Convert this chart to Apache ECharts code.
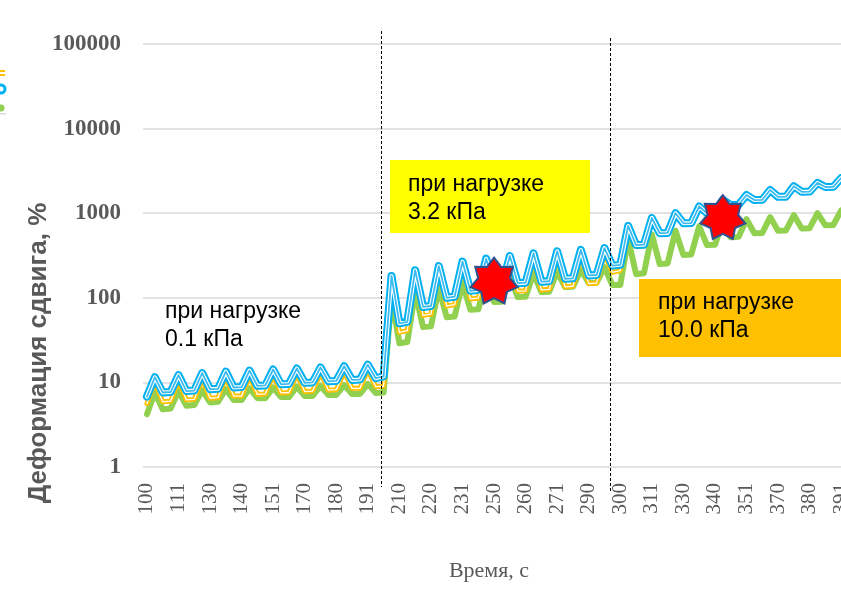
<!DOCTYPE html>
<html>
<head>
<meta charset="utf-8">
<script src="https://cdn.jsdelivr.net/npm/echarts@6/dist/echarts.min.js"></script>
<style>html,body{margin:0;padding:0;background:#fff;}#c{width:841px;height:590px;}</style>
</head>
<body>
<div id="c"></div>
<script>
// Time stamps (s): each load cycle is [t, t+1, t+10]
const times = [
  100,101,110, 110,111,120, 120,121,130, 130,131,140, 140,141,150,
  150,151,160, 160,161,170, 170,171,180, 180,181,190, 190,191,200,
  200,201,210, 210,211,220, 220,221,230, 230,231,240, 240,241,250,
  250,251,260, 260,261,270, 270,271,280, 280,281,290, 290,291,300,
  300,301,310, 310,311,320, 320,321,330, 330,331,340, 340,341,350,
  350,351,360, 360,361,370, 370,371,380, 380,381,390, 390,391,400
];
const yTicks = [1, 10, 100, 1000, 10000, 100000];

// Shear strain, %
const seriesBlue = [
  6.8,11.5,7.6, 7.7,12.2,7.9, 8.0,12.9,8.3, 8.4,13.4,8.7, 8.8,13.8,9.1,
  9.2,14.2,9.5, 9.6,14.6,9.9, 10.0,15.0,10.3, 10.4,15.5,10.7, 10.8,16.2,11.2,
  11.8,181,50, 52,212,78, 80,237,100, 103,268,121, 124,290,138,
  140,312,149, 151,335,155, 157,355,168, 170,368,184, 186,387,240,
  245,707,420, 425,877,580, 585,1000,760, 765,1200,1000, 1010,1440,1250,
  1260,1640,1430, 1440,1880,1560, 1570,2080,1790, 1800,2280,2040, 2050,2600,2300
];
const seriesOrange = [
  5.6,10.0,5.9, 6.0,10.5,6.2, 6.3,11.0,6.5, 6.6,11.5,6.9, 6.9,11.8,7.2,
  7.3,12.2,7.5, 7.6,12.5,7.8, 7.9,12.9,8.1, 8.2,13.3,8.5, 8.5,14.0,8.9,
  9.0,155,39, 41,180,62, 64,202,80, 83,228,97, 99,247,110,
  112,265,120, 121,285,124, 126,302,135, 137,313,147, 149,330,200,
  210,720,405, 410,890,565, 570,1020,740, 745,1220,975, 985,1470,1225,
  1235,1680,1405, 1415,1920,1535, 1545,2130,1765, 1775,2340,2015, 2025,2680,2280
];
const seriesGreen = [
  4.2,7.6,4.8, 4.9,7.9,5.3, 5.4,8.1,5.8, 5.9,8.3,6.2, 6.2,8.5,6.5,
  6.5,8.7,6.7, 6.7,8.9,6.9, 6.9,9.1,7.1, 7.1,9.3,7.3, 7.3,9.6,7.5,
  7.6,100,29, 30,118,45, 46,130,59, 60,150,72, 73,165,89,
  90,180,102, 103,195,117, 118,205,134, 135,215,150, 151,230,142,
  142,500,190, 195,560,250, 255,620,320, 325,700,420, 425,780,520,
  525,850,580, 585,900,620, 625,950,660, 665,1000,720, 725,1080,780
];

// 7-pointed star symbol path
function starPath(n, rOut, rIn) {
  let d = '';
  for (let i = 0; i < 2 * n; i++) {
    const r = i % 2 === 0 ? rOut : rIn;
    const a = -Math.PI / 2 + i * Math.PI / n;
    const x = (50 + r * Math.cos(a)).toFixed(2), y = (50 + r * Math.sin(a)).toFixed(2);
    d += (i === 0 ? 'M' : 'L') + x + ' ' + y + ' ';
  }
  return 'path://' + d + 'Z';
}
const STAR = starPath(7, 50, 34);

function line(name, data, color, width, z) {
  return {
    type: 'line', name: name, data: data, symbol: 'none', z: z,
    lineStyle: { color: color, width: width, join: 'round', cap: 'round' },
    silent: true, animation: false
  };
}

const chart = echarts.init(document.getElementById('c'), null, { renderer: 'canvas' });
const serif = 'Liberation Serif, Times New Roman, serif';
const sans = 'Liberation Sans, Arial, sans-serif';
const grey = '#595959';

chart.setOption({
  animation: false,
  backgroundColor: '#ffffff',
  grid: { left: 143, top: 44, width: 710, height: 423, containLabel: false, outerBoundsMode: 'none' },
  xAxis: {
    type: 'category', data: times, boundaryGap: true,
    axisLine: { show: false }, axisTick: { show: false },
    axisLabel: { interval: 3, rotate: 90, fontFamily: serif, fontSize: 21, color: grey, margin: 16 },
    splitLine: { show: false }
  },
  yAxis: {
    type: 'log', logBase: 10, min: yTicks[0], max: yTicks[yTicks.length - 1],
    axisLine: { show: false }, axisTick: { show: false },
    axisLabel: { fontFamily: serif, fontWeight: 'bold', fontSize: 23, color: grey, margin: 22,
      formatter: function (v) { return String(Math.round(v)); } },
    splitLine: { lineStyle: { color: '#D9D9D9', width: 1.5 } }
  },
  series: [
    line('Серия 3', seriesGreen, '#92D050', 6, 2),
    line('Серия 1', seriesOrange, '#FFC000', 5, 3),
    line('Серия 1 (внутр.)', seriesOrange, '#FFFFFF', 1.3, 4),
    line('Серия 2', seriesBlue, '#00B0F0', 8, 5),
    line('Серия 2 (бел.)', seriesBlue, '#FFFFFF', 4, 6),
    line('Серия 2 (внутр.)', seriesBlue, '#3DBBF0', 1.8, 7),
    {
      type: 'scatter', name: 'stars', data: [], z: 20, silent: true,
      markPoint: {
        symbol: STAR, symbolSize: 47, symbolKeepAspect: true, silent: true, z: 20,
        itemStyle: { color: '#FF0000', borderColor: '#2F528F', borderWidth: 2 },
        label: { show: false },
        data: [ { coord: [44, 160] }, { coord: [73, 900], symbolSize: 45 } ]
      }
    }
  ],
  graphic: [
    // vertical dashed separators
    { type: 'line', z: 50, shape: { x1: 381.5, y1: 31, x2: 381.5, y2: 487 },
      style: { stroke: '#000', lineWidth: 1, lineDash: [3, 2] } },
    { type: 'line', z: 50, shape: { x1: 610.5, y1: 38, x2: 610.5, y2: 492 },
      style: { stroke: '#000', lineWidth: 1, lineDash: [3, 2] } },
    // annotation boxes
    { type: 'text', z: 60, left: 165, top: 298,
      style: { text: 'при нагрузке\n0.1 кПа', font: '23px ' + sans, fill: '#000', lineHeight: 28 } },
    { type: 'rect', z: 60, shape: { x: 390, y: 160, width: 200, height: 73 }, style: { fill: '#FFFF00' } },
    { type: 'text', z: 61, left: 408, top: 171,
      style: { text: 'при нагрузке\n3.2 кПа', font: '23px ' + sans, fill: '#000', lineHeight: 28 } },
    { type: 'rect', z: 60, shape: { x: 639, y: 279, width: 210, height: 78 }, style: { fill: '#FFC000' } },
    { type: 'text', z: 61, left: 658, top: 289,
      style: { text: 'при нагрузке\n10.0 кПа', font: '23px ' + sans, fill: '#000', lineHeight: 28 } },
    // axis titles
    { type: 'text', z: 60, x: 39, y: 353, rotation: Math.PI / 2,
      style: { text: 'Деформация сдвига, %', font: 'bold 26px ' + sans, fill: grey, align: 'center', verticalAlign: 'middle' } },
    { type: 'text', z: 60, x: 489, y: 571,
      style: { text: 'Время, с', font: '22px ' + serif, fill: grey, align: 'center', verticalAlign: 'middle' } },
    // cropped legend remnants at the left edge
    { type: 'rect', z: 60, shape: { x: 0, y: 70, width: 5, height: 2 }, style: { fill: '#FFC000' } },
    { type: 'rect', z: 60, shape: { x: 0, y: 74, width: 5, height: 2 }, style: { fill: '#FFC000' } },
    { type: 'circle', z: 60, shape: { cx: 1, cy: 89, r: 4 }, style: { fill: '#fff', stroke: '#00B0F0', lineWidth: 3 } },
    { type: 'circle', z: 60, shape: { cx: 1, cy: 108, r: 3.5 }, style: { fill: '#92D050' } },
    { type: 'rect', z: 60, shape: { x: 0, y: 113, width: 6, height: 1.5 }, style: { fill: '#D9D9D9' } }
  ]
});
</script>
</body>
</html>
